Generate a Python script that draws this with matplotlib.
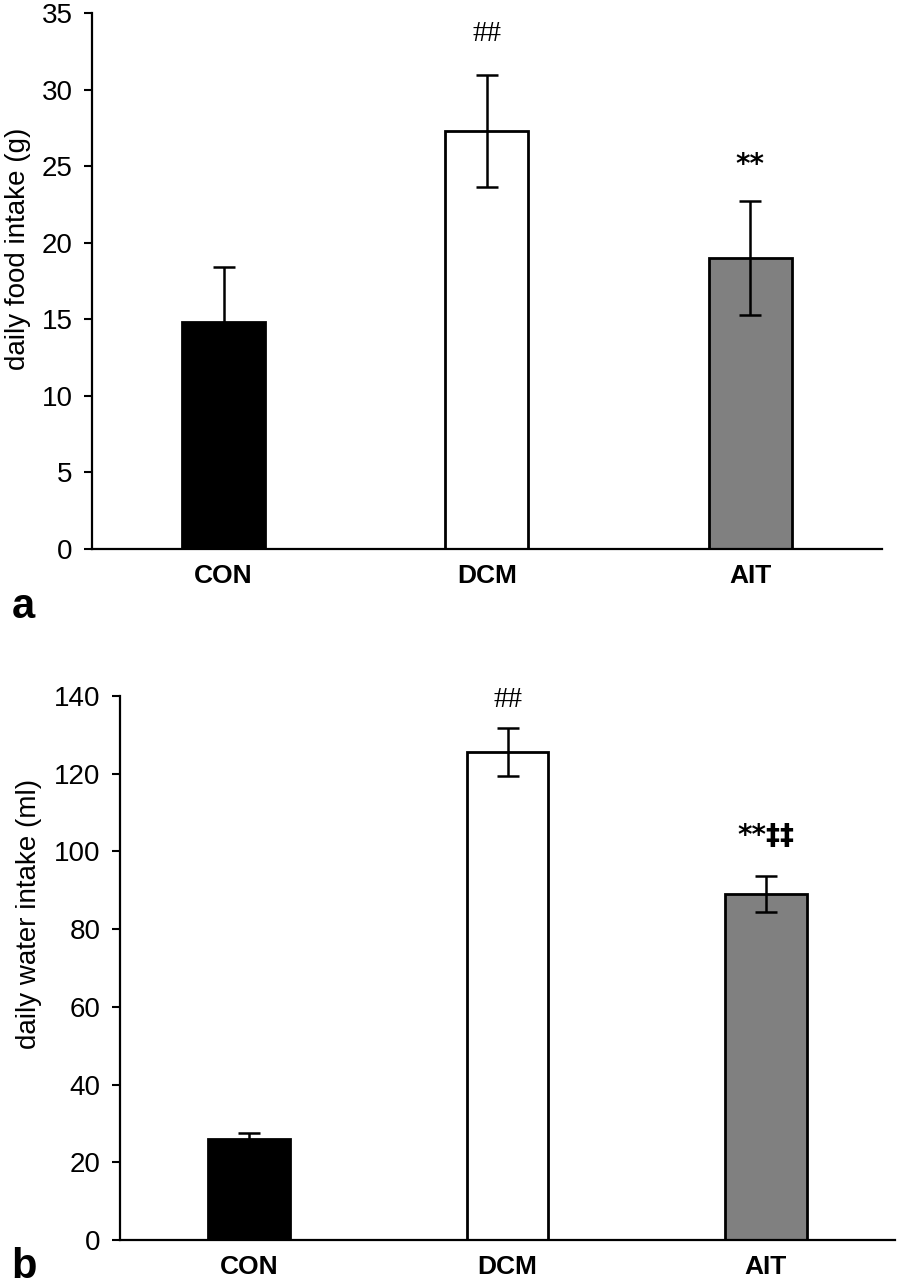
import numpy as np
import matplotlib.pyplot as plt

plt.rcParams['font.family'] = ['Liberation Sans', 'DejaVu Sans']

groups = ['CON', 'DCM', 'AIT']
colors = ['#000000', '#ffffff', '#808080']

food = [14.8, 27.3, 19.0]
food_err = [3.6, 3.65, 3.7]
food_marks = ['', '##', '**']

water = [26.0, 125.5, 89.0]
water_err = [1.5, 6.2, 4.6]
water_marks = ['', '##', '**\u2021\u2021']

fig = plt.figure(figsize=(8.98, 12.86), dpi=100)
ax1 = fig.add_axes([0.1024, 0.5731, 0.8796, 0.4168])
ax2 = fig.add_axes([0.1336, 0.0358, 0.8631, 0.4230])


def draw(ax, vals, errs, marks, ymax, step, ylabel, mark_y):
    x = np.arange(len(groups))
    ax.bar(x, vals, width=0.316, color=colors, edgecolor='black', linewidth=2, zorder=2)
    ax.errorbar(x, vals, yerr=errs, fmt='none', ecolor='black', elinewidth=1.8,
                capsize=8, capthick=1.8, zorder=3)
    ax.set_xlim(-0.5, 2.5)
    ax.set_ylim(0, ymax)
    ax.set_yticks(np.arange(0, ymax + 1, step))
    ax.set_xticks(x)
    ax.set_xticklabels(groups, fontsize=19, fontweight='bold')
    ax.tick_params(axis='x', length=0, pad=11)
    ax.tick_params(axis='y', length=6, width=1.5, labelsize=20, direction='out', pad=8)
    for s in ['top', 'right']:
        ax.spines[s].set_visible(False)
    for s in ['left', 'bottom']:
        ax.spines[s].set_linewidth(1.6)
    ax.set_ylabel(ylabel, fontsize=20)
    for i, m in enumerate(marks):
        if m.startswith('#'):
            ax.text(x[i], mark_y[i], m, ha='center', va='center', fontsize=21,
                    family=['Liberation Serif', 'DejaVu Serif'])
        elif m:
            ax.text(x[i], mark_y[i], m, ha='center', va='center', fontsize=20,
                    fontweight='bold', family=['DejaVu Sans'])


draw(ax1, food, food_err, food_marks, 35, 5, 'daily food intake (g)', [0, 33.6, 25.1])
draw(ax2, water, water_err, water_marks, 140, 20, 'daily water intake (ml)', [0, 139, 104])

ax1.yaxis.set_label_coords(-0.077, 0.56)
ax2.yaxis.set_label_coords(-0.10, 0.60)

fig.text(0.013, 0.528, 'a', fontsize=30, fontweight='bold', va='center')
fig.text(0.013, 0.015, 'b', fontsize=30, fontweight='bold', va='center')

fig.savefig('out.png', dpi=100)
